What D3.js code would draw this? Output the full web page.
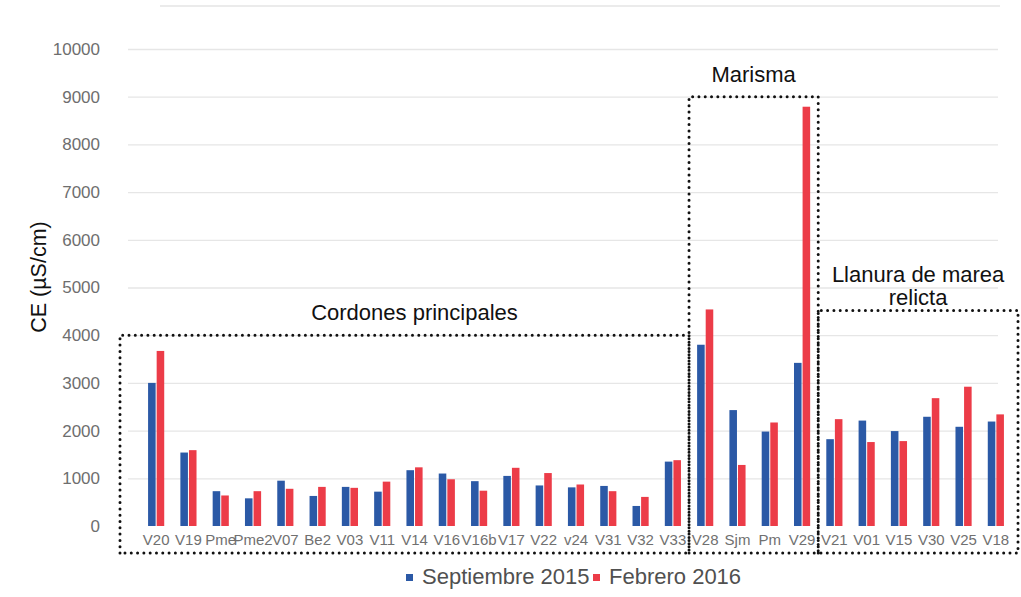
<!DOCTYPE html>
<head>
    <meta charset="utf-8">
    <script src="https://d3js.org/d3.v7.min.js"></script>
    <style>
        body { margin: 0; background: #fff; }
        text { font-family: "Liberation Sans", Arial, sans-serif; }
    </style>
</head>

<body>
    <div id="chart"></div>
</body>

<script>

    const width = 1021,
        height = 597;

    // sampling points along the x axis
    const sites = ['V20','V19','Pme','Pme2','V07','Be2','V03','V11','V14','V16','V16b','V17',
        'V22','v24','V31','V32','V33','V28','Sjm','Pm','V29','V21','V01','V15','V30','V25','V18'];

    // CE (µS/cm)
    const sep2015 = [3000,1540,730,580,950,630,820,720,1170,1100,940,1050,
        850,810,840,420,1350,3800,2430,1980,3420,1820,2210,1990,2290,2080,2190];
    const feb2016 = [3670,1590,640,730,780,820,800,930,1230,980,740,1220,
        1110,870,730,610,1380,4540,1280,2170,8790,2240,1760,1780,2680,2920,2340];

    const seriesNames = ['Septiembre 2015','Febrero 2016'];
    const colors = ['#2b59a6','#ec3c48'];

    const yTicks = d3.range(0, 10001, 1000);

    // groups: first and last site, top of the dotted frame (in µS/cm), title lines
    const groups = [
        { from:'V20', to:'V33', top:4000, title:['Cordones principales'] },
        { from:'V28', to:'V29', top:9000, title:['Marisma'] },
        { from:'V21', to:'V18', top:4520, title:['Llanura de marea','relicta'] }
    ];

    const data = sites.map((s,i)=>({ site:s, values:[sep2015[i], feb2016[i]] }));

    const svg = d3.select('#chart').append('svg')
        .attr('width', width)
        .attr('height', height);

    const x = d3.scaleBand()
        .domain(sites)
        .range([140, 1012])
        .paddingInner(0.5)
        .paddingOuter(0.25);

    const xSub = d3.scaleBand()
        .domain([0,1])
        .range([0, x.bandwidth()])
        .paddingInner(0.12);

    const y = d3.scaleLinear()
        .domain([0, 10000])
        .range([526, 49]);

    // faint frame line at top
    svg.append('line')
        .attr('x1', 160).attr('x2', 1000)
        .attr('y1', 6).attr('y2', 6)
        .attr('stroke', '#e4e4e4')
        .attr('stroke-width', 1.5);

    // y axis + gridlines
    svg.append('g')
        .attr('transform', 'translate(128,0)')
        .call(d3.axisLeft(y)
            .tickValues(yTicks)
            .tickFormat(d3.format('d'))
            .tickSizeInner(-870)
            .tickSizeOuter(0)
            .tickPadding(28))
        .call(g=>g.select('.domain').remove())
        .call(g=>g.selectAll('.tick line')
            .attr('stroke', d=> d===0 ? 'none' : '#e6e6e6')
            .attr('stroke-width', 1.3))
        .call(g=>g.selectAll('.tick text')
            .attr('fill', '#6e6e6e')
            .style('font-size', '17px'));

    // x axis labels
    svg.append('g')
        .attr('transform', 'translate(0,' + y(0) + ')')
        .call(d3.axisBottom(x).tickSize(0).tickPadding(8))
        .call(g=>g.select('.domain').remove())
        .call(g=>g.selectAll('.tick text')
            .attr('fill', '#707070')
            .style('font-size', '15px'));

    // bars
    svg.append('g')
        .selectAll('g.site').data(data)
        .enter()
        .append('g').attr('class','site')
        .attr('transform', d=>'translate(' + x(d.site) + ',0)')
        .selectAll('rect').data(d=>d.values)
        .enter()
        .append('rect')
        .attr('x', (d,i)=>xSub(i))
        .attr('width', xSub.bandwidth())
        .attr('y', d=>y(d))
        .attr('height', d=>y(0)-y(d))
        .attr('fill', (d,i)=>colors[i]);

    // dotted group frames
    const frame = svg.append('g');
    groups.forEach((gr,k)=>{
        let x0 = x(gr.from) - (x.step()-x.bandwidth())/2;
        let x1 = x(gr.to) + x.bandwidth() + (x.step()-x.bandwidth())/2;
        if(k===0) x0 -= 20;
        if(k===groups.length-1) x1 += 6;
        const top = y(gr.top), bottom = 553;
        frame.append('path')
            .attr('d', 'M' + x0 + ',' + bottom + 'V' + top + 'H' + x1 + 'V' + bottom + 'H' + x0)
            .attr('fill', 'none')
            .attr('stroke', '#111')
            .attr('stroke-width', 3)
            .attr('stroke-linecap', 'round')
            .attr('stroke-dasharray', '0,6.3');

        // last title line sits just above the frame for the two-line label
        const gap = gr.title.length > 1 ? 5 : 15;
        const cx = (x0+x1)/2 + (k===0 ? 10 : 0);
        const t = frame.append('text')
            .attr('x', cx)
            .attr('y', top - gap - (gr.title.length-1)*23)
            .attr('text-anchor', 'middle')
            .attr('fill', '#111')
            .style('font-size', '22px');
        t.selectAll('tspan').data(gr.title)
            .enter()
            .append('tspan')
            .attr('x', cx)
            .attr('dy', (d,i)=> i ? 23 : 0)
            .text(d=>d);
    });

    // y title
    svg.append('text')
        .attr('transform', 'translate(46,277) rotate(-90)')
        .attr('text-anchor', 'middle')
        .attr('fill', '#111')
        .style('font-size', '21.5px')
        .text('CE (µS/cm)');

    // legend
    const legend = svg.append('g').attr('transform', 'translate(406,584)');
    const lx = [0, 187];
    seriesNames.forEach((name,i)=>{
        legend.append('rect')
            .attr('x', lx[i]).attr('y', -10)
            .attr('width', 7).attr('height', 7)
            .attr('fill', colors[i]);
        legend.append('text')
            .attr('x', lx[i] + 16)
            .attr('y', 0)
            .attr('fill', '#505050')
            .style('font-size', '22px')
            .text(name);
    });

</script>
